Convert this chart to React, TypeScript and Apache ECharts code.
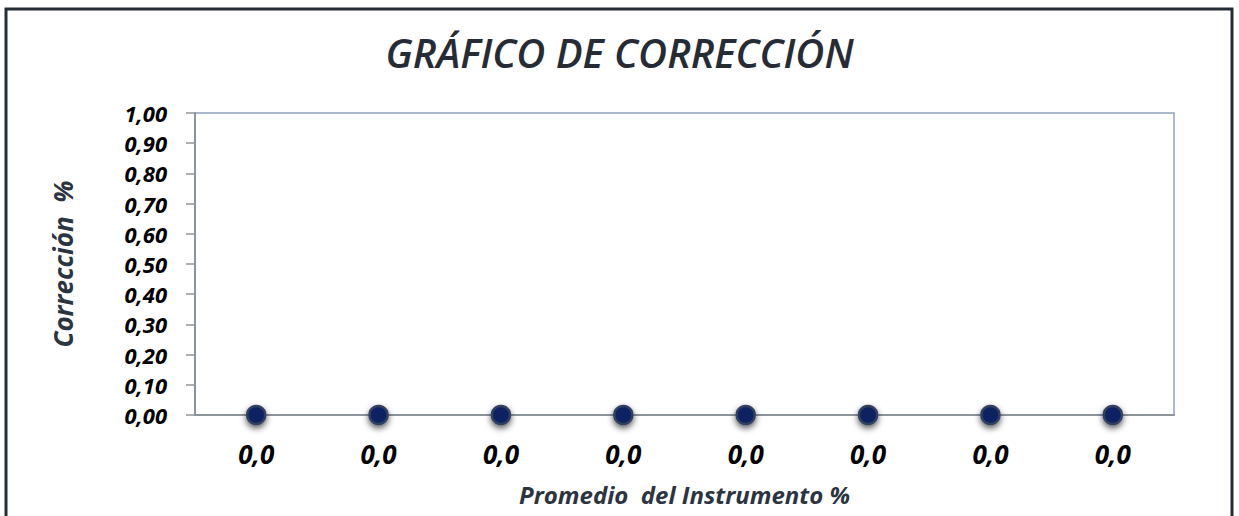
import React, { useEffect, useRef } from "react";
import * as echarts from "echarts";

const titleText = "GRÁFICO DE CORRECCIÓN";
const xAxisName = "Promedio  del Instrumento %";
const yAxisName = "Corrección  %";
const xLabels = ["0,0", "0,0", "0,0", "0,0", "0,0", "0,0", "0,0", "0,0"];
const yValues = [0, 0, 0, 0, 0, 0, 0, 0];
const yMin = 0;
const yMax = 1;
const yStep = 0.1;

const FONT = "'Open Sans', 'Noto Sans', sans-serif";

export default function App() {
  const ref = useRef<HTMLDivElement>(null);
  useEffect(() => {
    document.body.style.margin = "0";
    if (!ref.current) return;
    const chart = echarts.init(ref.current, null, { renderer: "svg" });
    chart.setOption({
      animation: false,
      backgroundColor: "#ffffff",
      title: {
        text: titleText,
        left: "center",
        top: 27,
        textStyle: {
          fontFamily: FONT,
          fontSize: 40,
          fontStyle: "italic",
          fontWeight: 600,
          color: "#262c36",
        },
      },
      graphic: [
        {
          type: "rect",
          shape: { x: 6, y: 9, width: 1226, height: 515 },
          style: { fill: "none", stroke: "#262c36", lineWidth: 3 },
          silent: true,
        },
      ],
      grid: {
        left: 195,
        top: 113,
        width: 979,
        height: 302,
        show: true,
        borderColor: "#8fa3bf",
        borderWidth: 1.5,
        backgroundColor: "transparent",
      },
      xAxis: {
        type: "category",
        data: xLabels,
        boundaryGap: true,
        name: xAxisName,
        nameLocation: "middle",
        nameGap: 67,
        nameTextStyle: {
          fontFamily: FONT,
          fontSize: 24,
          fontStyle: "italic",
          fontWeight: "bold",
          color: "#2b3441",
          lineHeight: 24,
        },
        axisLine: { show: true, lineStyle: { color: "#8c949c", width: 2 } },
        axisTick: { show: false },
        axisLabel: {
          margin: 27,
          fontFamily: FONT,
          fontSize: 26,
          fontStyle: "italic",
          fontWeight: "bold",
          color: "#000000",
          interval: 0,
          lineHeight: 24,
        },
        splitLine: { show: false },
      },
      yAxis: {
        type: "value",
        min: yMin,
        max: yMax,
        interval: yStep,
        name: yAxisName,
        nameLocation: "middle",
        nameRotate: 90,
        nameGap: 120,
        nameTextStyle: {
          fontFamily: FONT,
          fontSize: 26,
          fontStyle: "italic",
          fontWeight: "bold",
          color: "#2b3441",
          lineHeight: 24,
        },
        axisLine: { show: true, lineStyle: { color: "#8c949c", width: 2 } },
        axisTick: {
          show: true,
          inside: false,
          length: 9,
          lineStyle: { color: "#8c949c", width: 1.5 },
        },
        axisLabel: {
          margin: 28,
          fontFamily: FONT,
          fontSize: 22,
          fontStyle: "italic",
          fontWeight: "bold",
          color: "#000000",
          lineHeight: 22,
          formatter: (v: number) => v.toFixed(2).replace(".", ","),
        },
        splitLine: { show: false },
      },
      series: [
        {
          type: "line",
          data: yValues,
          symbol: "circle",
          symbolSize: 18,
          lineStyle: { width: 0, opacity: 0 },
          itemStyle: {
            color: "#0b2263",
            borderColor: "#33415e",
            borderWidth: 2.5,
            shadowBlur: 6,
            shadowColor: "rgba(0,0,0,0.65)",
            shadowOffsetY: 3,
          },
          z: 5,
        },
      ],
    });
    return () => chart.dispose();
  }, []);
  return <div ref={ref} style={{ width: 1239, height: 516 }} />;
}
